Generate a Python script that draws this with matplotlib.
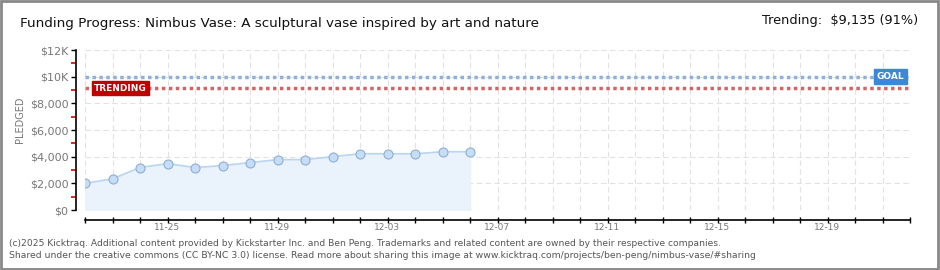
import matplotlib

matplotlib.use("Agg")
import matplotlib.pyplot as plt
import matplotlib.dates as mdates
from matplotlib.patches import Rectangle
from matplotlib.ticker import FuncFormatter, MultipleLocator
import pandas as pd

dates = [
    "2025-11-22", "2025-11-23", "2025-11-24", "2025-11-25", "2025-11-26",
    "2025-11-27", "2025-11-28", "2025-11-29", "2025-11-30", "2025-12-01",
    "2025-12-02", "2025-12-03", "2025-12-04", "2025-12-05", "2025-12-06",
]
pledged = [2000, 2340, 3185, 3480, 3185, 3330, 3555, 3780, 3780, 4000,
           4220, 4220, 4220, 4370, 4370]
goal = 10000
trending = 9135
x_start, x_end = "2025-11-22", "2025-12-22"

GRAY = "#777777"

x = pd.to_datetime(dates)
fig = plt.figure(figsize=(9.4, 2.7), dpi=100)
ax = fig.add_axes([85 / 940, 60 / 270, 825 / 940, 160 / 270])

ax.fill_between(x, pledged, 0, color="#eaf2fc", zorder=1)
ax.plot(x, pledged, color="#b9d5f2", linewidth=1.2, zorder=2)
ax.scatter(x, pledged, s=42, facecolor="#c6ddf6", edgecolor="#8eaed6",
           linewidth=0.8, zorder=3)

ax.axhline(goal, color="#8fb0d9", linestyle=(0, (1, 1)), linewidth=2.5, zorder=2)
ax.axhline(trending, color="#d46464", linestyle=(0, (1, 1)), linewidth=2.5, zorder=2)

ax.set_xlim(pd.Timestamp(x_start), pd.Timestamp(x_end))
ax.set_ylim(0, 12000)

ax.xaxis.set_major_locator(mdates.DayLocator(bymonthday=[3, 7, 11, 15, 19, 25, 29]))
ax.xaxis.set_major_formatter(mdates.DateFormatter("%m-%d"))
ax.xaxis.set_minor_locator(mdates.DayLocator())
ax.yaxis.set_major_locator(MultipleLocator(2000))
ax.yaxis.set_minor_locator(MultipleLocator(1000))


def money(v, _):
    if v >= 10000:
        return "${:d}K".format(int(v // 1000))
    return "${:,d}".format(int(v))


ax.yaxis.set_major_formatter(FuncFormatter(money))

ax.grid(True, which="both", axis="x", color="#e2e2e2", linestyle=(0, (5, 3)), linewidth=0.8)
ax.grid(True, which="major", axis="y", color="#e2e2e2", linestyle=(0, (5, 3)), linewidth=0.8)
ax.set_axisbelow(True)

for side in ("top", "right"):
    ax.spines[side].set_visible(False)
ax.spines["left"].set_position(("outward", 6.5))
ax.spines["bottom"].set_position(("outward", 7.2))
ax.spines["left"].set_linewidth(1.2)
ax.spines["bottom"].set_linewidth(1.2)

ax.tick_params(axis="y", which="major", length=3.5, width=1, colors="black",
               labelcolor=GRAY, labelsize=8, pad=2)
ax.tick_params(axis="y", which="minor", length=3.5, width=1.2, colors="#e00000")
ax.tick_params(axis="x", which="both", length=4, width=1, direction="inout",
               colors="black", labelcolor=GRAY, labelsize=6.5, pad=0)

fig.text(20 / 940, 1 - 120 / 270, "PLEDGED", rotation=90, color=GRAY,
         fontsize=7, va="center", ha="center")

ax.text(0.011, trending, "TRENDING", transform=ax.get_yaxis_transform(),
        color="white", fontsize=6.5, fontweight="bold", va="center", ha="left",
        bbox=dict(boxstyle="square,pad=0.25", facecolor="#c00000", edgecolor="#c00000"),
        zorder=5)
ax.text(0.993, goal, "GOAL", transform=ax.get_yaxis_transform(),
        color="white", fontsize=6.5, fontweight="bold", va="center", ha="right",
        bbox=dict(boxstyle="square,pad=0.3", facecolor="#3b88d6", edgecolor="#3b88d6"),
        zorder=5)

fig.text(20 / 940, 1 - 23 / 270, "Funding Progress: Nimbus Vase: A sculptural vase inspired by art and nature",
         fontsize=9.7, va="center", ha="left", color="#111111")
fig.text(918 / 940, 1 - 21 / 270, "Trending:  $9,135 (91%)", fontsize=9.3,
         va="center", ha="right", color="#111111")

fig.text(9 / 940, 1 - 243 / 270,
         "(c)2025 Kicktraq. Additional content provided by Kickstarter Inc. and Ben Peng. "
         "Trademarks and related content are owned by their respective companies.",
         fontsize=6.62, va="center", ha="left", color="#555555")
fig.text(9 / 940, 1 - 256 / 270,
         "Shared under the creative commons (CC BY-NC 3.0) license. Read more about sharing "
         "this image at www.kicktraq.com/projects/ben-peng/nimbus-vase/#sharing",
         fontsize=6.7, va="center", ha="left", color="#555555")

fig.patches.append(Rectangle((0.001, 0.002), 0.997, 0.995, transform=fig.transFigure,
                             fill=False, edgecolor="#888888", linewidth=2))

fig.savefig("out.png", dpi=100)
